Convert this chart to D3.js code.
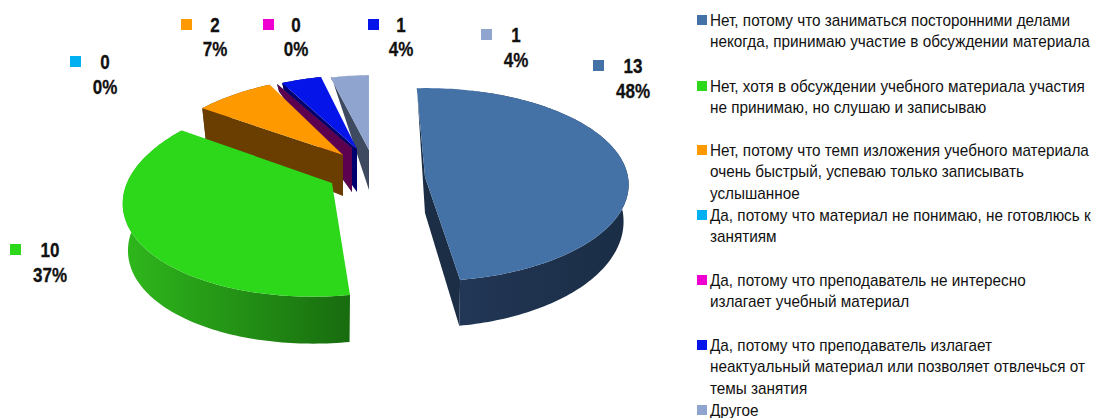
<!DOCTYPE html>
<html>
<head>
<meta charset="utf-8">
<script src="https://cdn.jsdelivr.net/npm/d3@7"></script>
<style>
    html, body { margin: 0; padding: 0; background: #fff; }
    svg { display: block; }
    text { font-family: "Liberation Sans", Arial, sans-serif; fill: #111; }
    .legend text { font-size: 16px; }
    .lab text { font-size: 20.5px; font-weight: bold; text-anchor: middle; stroke: #111; stroke-width: 0.3px; }
</style>
</head>
<body>
<div id="main"></div>
<script>
const counts = [13, 10, 2, 0, 0, 1, 1];
const legendLines = [
    ["Нет, потому что заниматься посторонними делами", "некогда, принимаю участие в обсуждении материала"],
    ["Нет, хотя в обсуждении учебного материала участия", "не принимаю, но слушаю и записываю"],
    ["Нет, потому что темп изложения учебного материала", "очень быстрый, успеваю только записывать", "услышанное"],
    ["Да, потому что материал не понимаю, не готовлюсь к", "занятиям"],
    ["Да, потому что преподаватель не интересно", "излагает учебный материал"],
    ["Да, потому что преподаватель излагает", "неактуальный материал или позволяет отвлечься от", "темы занятия"],
    ["Другое"]
];
const topColors = ["#4471a6", "#2dd81a", "#ff9900", "#00b0f0", "#f000d0", "#0514e8", "#8fa5cf"];
const sideColors = ["#1b2e46", "#1a6e10", "#6a3d00", "#06506e", "#5c0050", "#00006e", "#3d4a60"];
// wall shading, left to right
const wallLeft = ["#24395a", "#2fb81c", "#6a3d00", "#06506e", "#5c0050", "#00006e", "#3d4a60"];
const wallRight = ["#1a2d45", "#186c0f", "#6a3d00", "#06506e", "#5c0050", "#00006e", "#3d4a60"];

// one ellipse per slice, the picture is an exploded pie seen in perspective
const slices3d = [
    { cx: 425, cy: 177, R: 203, ry: 96, k: 0, p: 0.08, d0: 36, d1: 46 },
    { cx: 332, cy: 183, R: 205, ry: 100, k: -17, p: 0.12, d0: 47, d1: 47 },
    { cx: 343, cy: 155, R: 191, ry: 89, k: -14, p: 0.12, d0: 41, d1: 41 },
    { cx: 352, cy: 148, R: 193, ry: 81, k: -13, p: 0.12, d0: 44, d1: 44 },
    { cx: 352, cy: 148, R: 193, ry: 81, k: -13, p: 0.12, d0: 44, d1: 44 },
    { cx: 357, cy: 149, R: 193, ry: 83.5, k: -13, p: 0.12, d0: 43, d1: 43 },
    { cx: 369, cy: 150, R: 185, ry: 84, k: -8, p: 0.12, d0: 40, d1: 40 }
];
const paintOrder = [6, 5, 3, 4, 2, 0, 1];

const labelPos = [
    { sx: 598, sy: 65, x: 633, y: 73 },
    { sx: 15, sy: 249, x: 50, y: 257 },
    { sx: 186, sy: 24, x: 215, y: 31.5 },
    { sx: 75, sy: 61, x: 105, y: 69 },
    { sx: 268, sy: 24, x: 296, y: 31.5 },
    { sx: 373, sy: 24, x: 401, y: 31.5 },
    { sx: 486, sy: 34, x: 516, y: 42 }
];
const legendY = [20, 86, 150, 215, 280, 345, 410];

const ctx = { w: 1093, h: 418, lineH: 21.7, legendSx: 0.957, labelSx: 0.83, wallShrink: 0.975 };

function project(s, a) {
    let X = Math.sin(a), Y = -Math.cos(a);
    let sc = 1 / (1 - s.p * Y);
    return [s.cx + sc * (s.R * X + s.k * Y), s.cy + sc * s.ry * Y, Y];
}

// wall height fades out towards the far rim
function depthAt(s, Y) {
    let fade = Math.min(1, Math.max(0, (Y + 0.96) / 0.5));
    return (s.d0 + (s.d1 - s.d0) * Math.max(Y, 0)) * fade;
}

function lowered(s, pt) {
    return [s.cx + (pt[0] - s.cx) * ctx.wallShrink, pt[1] + depthAt(s, pt[2])];
}

function cutFaceVisible(e, inner) {
    // the wall hangs straight down, it shows when the slice lies on the other side of the edge
    let down = e[0];
    let side = e[0] * inner[1] - e[1] * inner[0];
    return down * side < 0;
}

function createViz() {
    let svgEl = d3.select("#main").append("svg")
        .attr("width", ctx.w)
        .attr("height", ctx.h);
    let defs = svgEl.append("defs");
    let arcs = d3.pie().sort(null).startAngle(-2.5 * Math.PI / 180)
        .endAngle(357.5 * Math.PI / 180)(counts);
    let line = d3.line();
    let pieG = svgEl.append("g").attr("id", "pie");

    paintOrder.forEach(function (i) {
        let s = slices3d[i], d = arcs[i];
        let n = Math.max(2, Math.ceil((d.endAngle - d.startAngle) / 0.02));
        let rim = d3.range(n + 1).map(j => project(s, d.startAngle + (d.endAngle - d.startAngle) * j / n));
        let apex = [s.cx, s.cy, 0];
        let apexLow = lowered(s, apex);
        let g = pieG.append("g");

        let grad = defs.append("linearGradient").attr("id", "wall" + i);
        grad.append("stop").attr("offset", "0%").attr("stop-color", wallLeft[i]);
        grad.append("stop").attr("offset", "100%").attr("stop-color", wallRight[i]);

        if (d.value > 0) {
            let wall = rim.concat(rim.map(p => lowered(s, p)).reverse());
            g.append("path").attr("d", line(wall.map(p => p.slice(0, 2))) + "Z")
                .attr("fill", `url(#wall${i})`);
        }
        let inner = [rim[Math.floor(n / 2)][0] - s.cx, rim[Math.floor(n / 2)][1] - s.cy];
        [rim[0], rim[n]].forEach(function (p, idx) {
            let e = [p[0] - s.cx, p[1] - s.cy];
            if (d.value > 0 && !cutFaceVisible(e, inner)) { return; }
            if (d.value == 0 && idx == 1) { return; }
            let q = lowered(s, p);
            g.append("path")
                .attr("d", line([p.slice(0, 2), apex.slice(0, 2), apexLow, q]) + "Z")
                .attr("fill", sideColors[i]);
        });
        if (d.value > 0) {
            g.append("path")
                .attr("d", line([apex].concat(rim).map(a => a.slice(0, 2))) + "Z")
                .attr("fill", topColors[i]);
        }
    });

    // data labels
    let total = d3.sum(counts);
    let fmt = d3.format(".0%");
    let lab = svgEl.append("g").attr("class", "lab").selectAll("g")
        .data(counts).join("g");
    lab.append("rect")
        .attr("x", (d, i) => labelPos[i].sx - 5)
        .attr("y", (d, i) => labelPos[i].sy - 5)
        .attr("width", 11).attr("height", 11)
        .attr("fill", (d, i) => topColors[i]);
    lab.append("text")
        .attr("transform", (d, i) => `translate(${labelPos[i].x},${labelPos[i].y}) scale(${ctx.labelSx},1)`)
        .text(d => d);
    lab.append("text")
        .attr("transform", (d, i) => `translate(${labelPos[i].x},${labelPos[i].y + 24.7}) scale(${ctx.labelSx},1)`)
        .text(d => fmt(d / total));

    // legend
    let leg = svgEl.append("g").attr("class", "legend").selectAll("g")
        .data(legendLines).join("g");
    leg.append("rect")
        .attr("x", 697).attr("y", (d, i) => legendY[i] - 5)
        .attr("width", 10).attr("height", 10)
        .attr("fill", (d, i) => topColors[i]);
    leg.each(function (lines, i) {
        d3.select(this).selectAll("text").data(lines).join("text")
            .attr("transform", (d, j) => `translate(710,${legendY[i] + 5.7 + j * ctx.lineH}) scale(${ctx.legendSx},1)`)
            .text(d => d);
    });
}

createViz();
</script>
</body>
</html>
